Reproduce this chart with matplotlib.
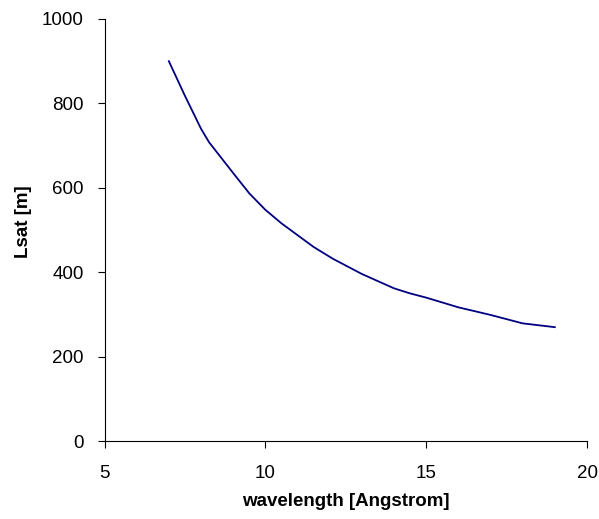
import matplotlib
matplotlib.use("Agg")
import matplotlib.pyplot as plt

plt.rcParams['font.family'] = ['Liberation Sans', 'DejaVu Sans']

# wavelength [Angstrom] vs saturation length [m]
wavelength = [7, 7.5, 8, 8.25, 9, 9.5, 10, 10.5, 11, 11.5, 12.1, 13, 14, 14.5, 15, 16, 17, 18, 19]
lsat = [900, 818, 740, 708, 635, 587, 548, 516, 488, 460, 432, 396, 362, 350, 340, 317, 299, 279, 270]

xticks = [5, 10, 15, 20]
yticks = [0, 200, 400, 600, 800, 1000]

fig = plt.figure(figsize=(5.99, 5.19), dpi=100)
ax = fig.add_axes([0.1745, 0.150, 0.8055, 0.8134])

ax.plot(wavelength, lsat, color='#000080', linewidth=1.3)

ax.set_xlim(5, 20)
ax.set_ylim(0, 1000)
ax.set_xticks(xticks)
ax.set_yticks(yticks)
ax.tick_params(labelsize=13.5, length=5, width=0.8, direction='out')
ax.tick_params(axis='x', pad=12)
ax.tick_params(axis='y', pad=10)

for side in ('top', 'right'):
    ax.spines[side].set_visible(False)
for side in ('left', 'bottom'):
    ax.spines[side].set_linewidth(0.8)

ax.set_xlabel("wavelength [Angstrom]", fontsize=13.5, fontweight='bold')
ax.xaxis.set_label_coords(0.5, -0.122)
ax.set_ylabel("Lsat [m]", fontsize=13.5, fontweight='bold')
ax.yaxis.set_label_coords(-0.15, 0.52)

fig.savefig("out.png", dpi=100)
